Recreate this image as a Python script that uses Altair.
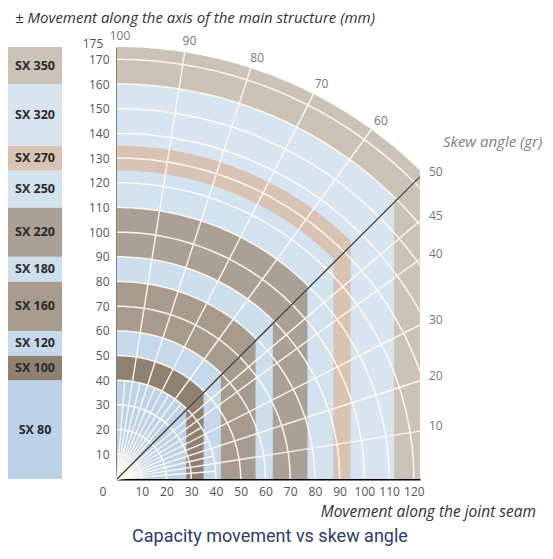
import altair as alt
import numpy as np
import pandas as pd

# ---------------- data ----------------
products = ["SX 80", "SX 100", "SX 120", "SX 160", "SX 180",
            "SX 220", "SX 250", "SX 270", "SX 320", "SX 350"]
sizes = [80, 100, 120, 160, 180, 220, 250, 270, 320, 350]
axial_capacity = [40, 50, 60, 80, 90, 110, 125, 135, 160, 175]       # ± mm along main structure
seam_capacity = [28, 35, 42, 56, 63, 77, 87.5, 94.5, 112, 122.5]     # mm along joint seam
colors = ["#bcd2e8", "#8f8172", "#c6d9eb", "#a79b8e", "#cddeed",
          "#aba095", "#d3e2ef", "#d8c3b5", "#d8e4f0", "#cbc3b8"]

y_ticks = [10, 20, 30, 40, 50, 60, 70, 80, 90, 100, 110, 120, 130, 140, 150, 160, 170]
x_ticks = [10, 20, 30, 40, 50, 60, 70, 80, 90, 100, 110, 120]
grid_radii = [10, 20, 30, 40, 50, 60, 70, 80, 90, 100, 110, 120, 130, 140, 150, 160, 170]
spokes_full = [10, 20, 30, 40, 45, 50, 60, 70, 80, 90]   # gradians
spokes_inner = [5, 15, 25, 35, 55, 65, 75, 85, 95]        # gradians, near origin only
angle_top = [100, 90, 80, 70, 60]
angle_right = [50, 45, 40, 30, 20, 10]

XMAX = 122.5
YMAX = 175
W, H = 303, 432
FONT = "Open Sans"

xs = alt.Scale(domain=[0, XMAX], nice=False, zero=False)
ys = alt.Scale(domain=[0, YMAX], nice=False, zero=False)
x_axis = alt.Axis(values=x_ticks, ticks=False, grid=False, domainColor="black", domainWidth=2,
                  labelColor="#555", labelFontSize=12, labelPadding=7, labelFont=FONT,
                  labelFlush=False, labelOverlap=False, title=None)
y_axis = alt.Axis(values=y_ticks, ticks=False, grid=False, domainColor="black", domainWidth=2,
                  labelColor="#555", labelFontSize=12, labelPadding=8, labelFont=FONT,
                  labelFlush=False, labelOverlap=False, title=None)


def X(f):
    return alt.X(f, type="quantitative", scale=xs, axis=x_axis)


def Y(f):
    return alt.Y(f, type="quantitative", scale=ys, axis=y_axis, stack=None)


one = pd.DataFrame({"a": [1]})

# ---------------- capacity regions (largest first) ----------------
layers = []
for prod, R, a, c in reversed(list(zip(products, axial_capacity, seam_capacity, colors))):
    px = np.linspace(0, a, 80)
    py = np.sqrt(np.maximum(R ** 2 - px ** 2, 0))
    df = pd.DataFrame({"x": px, "y": py})
    layers.append(alt.Chart(df).mark_area(color=c, opacity=1).encode(x=X("x"), y=Y("y")))

# ---------------- grid arcs ----------------
rows = []
for r in grid_radii:
    t0 = np.degrees(np.arccos(min(1.0, XMAX / r)))
    for i, t in enumerate(np.linspace(t0, 90, 90)):
        rows.append({"r": r, "i": i, "x": r * np.cos(np.radians(t)), "y": r * np.sin(np.radians(t))})
arcs = pd.DataFrame(rows)
layers.append(alt.Chart(arcs).mark_line(color="#fffaf0", strokeWidth=1.5, opacity=0.95).encode(
    x=X("x"), y=Y("y"), detail="r:N", order="i:Q"))

# ---------------- spokes ----------------
rows = []
for g in spokes_full:
    th = np.radians(g * 0.9)
    rend = YMAX if np.cos(th) < 1e-9 else min(YMAX, XMAX / np.cos(th))
    rows += [{"g": g, "i": 0, "x": 0, "y": 0},
             {"g": g, "i": 1, "x": rend * np.cos(th), "y": rend * np.sin(th)}]
for g in spokes_inner:
    th = np.radians(g * 0.9)
    rows += [{"g": g, "i": 0, "x": 0, "y": 0},
             {"g": g, "i": 1, "x": 40 * np.cos(th), "y": 40 * np.sin(th)}]
spk = pd.DataFrame(rows)
layers.append(alt.Chart(spk).mark_line(color="#fffaf0", strokeWidth=1.4, opacity=0.95).encode(
    x=X("x"), y=Y("y"), detail="g:N", order="i:Q"))

# ---------------- diagonal (50 gr) ----------------
diag = pd.DataFrame({"x": [0, XMAX], "y": [0, XMAX]})
layers.append(alt.Chart(diag).mark_line(color="#3a3a3a", strokeWidth=1.3).encode(
    x=X("x"), y=Y("y")))

# ---------------- angle labels ----------------
rt = 179.5
top_df = pd.DataFrame({"t": [str(v) for v in angle_top],
                       "x": [rt * np.cos(np.radians(v * 0.9)) for v in angle_top],
                       "y": [rt * np.sin(np.radians(v * 0.9)) for v in angle_top]})
layers.append(alt.Chart(top_df).mark_text(color="#777", fontSize=12, font=FONT, dx=3).encode(
    x=X("x"), y=Y("y"), text="t:N"))
right_df = pd.DataFrame({"t": [str(v) for v in angle_right],
                         "x": [XMAX] * len(angle_right),
                         "y": [XMAX * np.tan(np.radians(v * 0.9)) for v in angle_right]})
layers.append(alt.Chart(right_df).mark_text(color="#777", fontSize=12, font=FONT, align="left",
                                            dx=9, dy=-5).encode(x=X("x"), y=Y("y"), text="t:N"))

corner_df = pd.DataFrame({"x": [0, 0], "y": [0, YMAX], "t": ["0", "175"]})
layers.append(alt.Chart(corner_df.iloc[[0]]).mark_text(color="#555", fontSize=12, font=FONT,
                                                       dx=-14, dy=13).encode(
    x=X("x"), y=Y("y"), text="t:N"))
layers.append(alt.Chart(corner_df.iloc[[1]]).mark_text(color="#555", fontSize=12, font=FONT,
                                                       dx=-24, dy=-3).encode(
    x=X("x"), y=Y("y"), text="t:N"))

# ---------------- free texts ----------------
layers.append(alt.Chart(one).mark_text(align="left", baseline="middle", fontStyle="italic",
                                       fontSize=15, font=FONT, color="#808080").encode(
    x=alt.value(326), y=alt.value(95), text=alt.value("Skew angle (gr)")))
layers.append(alt.Chart(one).mark_text(align="right", baseline="middle", fontStyle="italic",
                                       fontSize=15.5, font=FONT, color="#333").encode(
    x=alt.value(419), y=alt.value(465), text=alt.value("Movement along the joint seam")))
layers.append(alt.Chart(one).mark_text(align="center", baseline="middle",
                                       fontSize=18, font="Roboto", color="#2d3b6b").encode(
    x=alt.value(153), y=alt.value(490), text=alt.value("Capacity movement vs skew angle")))

main = alt.layer(*layers).properties(width=W, height=H)

# ---------------- legend column ----------------
lows = [0] + axial_capacity[:-1]
leg = pd.DataFrame({"product": products, "lo": lows, "hi": axial_capacity, "color": colors})
leg["mid"] = (leg["lo"] + leg["hi"]) / 2
leg_rect = alt.Chart(leg).mark_rect().encode(
    y=alt.Y("lo:Q", scale=ys, axis=None), y2="hi:Q",
    x=alt.value(0), x2=alt.value(54),
    color=alt.Color("color:N", scale=None))
leg_text = alt.Chart(leg).mark_text(fontWeight="bold", fontSize=12.5, font=FONT, color="#2a2a2a").encode(
    y=alt.Y("mid:Q", scale=ys, axis=None), x=alt.value(27), text="product:N")
top_title = alt.Chart(one).mark_text(align="left", baseline="middle", fontStyle="italic",
                                     fontSize=15, font=FONT, color="#333").encode(
    x=alt.value(7), y=alt.value(-29),
    text=alt.value("± Movement along the axis of the main structure (mm)"))
legend = alt.layer(leg_rect, leg_text, top_title).properties(width=54, height=H)

chart = alt.hconcat(legend, main, spacing=55, bounds="flush").configure_view(
    stroke=None).properties(padding={"left": 0, "top": 3, "right": 0, "bottom": 0})

chart.save("out.html", embed_options={"renderer": "svg", "actions": False})
